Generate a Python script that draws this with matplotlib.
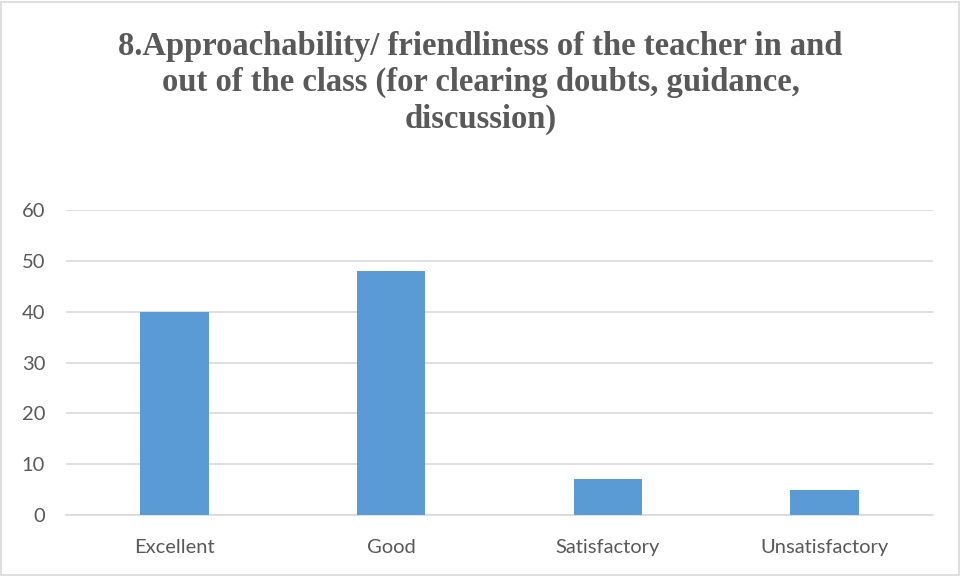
import matplotlib
matplotlib.use("Agg")
from matplotlib import pyplot as plt

# data
categories = ["Excellent", "Good", "Satisfactory", "Unsatisfactory"]
counts = [40, 48, 7, 5]
yticks = [0, 10, 20, 30, 40, 50, 60]

title = ("8.Approachability/ friendliness of the teacher in and\n"
         "out of the class (for clearing doubts, guidance,\n"
         "discussion)")

text_grey = "#595959"
bar_blue = "#5B9BD5"
grid_grey = "#D9D9D9"

fig = plt.figure(figsize=(9.61, 5.76), dpi=100)
ax = fig.add_axes([0.0687, 0.106, 0.902, 0.529])

x = list(range(len(categories)))
ax.bar(x, counts, width=0.315, color=bar_blue, zorder=3)

ax.set_xlim(-0.5, len(categories) - 0.5)
ax.set_ylim(0, 60)
ax.set_yticks(yticks)
ax.set_xticks(x)
ax.set_xticklabels(categories)
ax.yaxis.grid(True, color=grid_grey, linewidth=1.2, zorder=0)

for side in ["top", "right", "left"]:
    ax.spines[side].set_visible(False)
ax.spines["bottom"].set_color(grid_grey)
ax.spines["bottom"].set_linewidth(1.2)

ax.tick_params(axis="both", length=0, colors=text_grey, labelsize=14.5)
ax.tick_params(axis="y", pad=15)
ax.tick_params(axis="x", pad=17)
for lbl in ax.get_xticklabels() + ax.get_yticklabels():
    lbl.set_family("Lato")

fig.text(0.5, 0.947, title, ha="center", va="top", fontsize=23.5,
         fontweight="bold", family="Liberation Serif", color=text_grey,
         linespacing=1.22)

# thin frame round the whole chart
frame = plt.Rectangle((0.001, 0.002), 0.997, 0.995, transform=fig.transFigure,
                      fill=False, edgecolor=grid_grey, linewidth=1.2)
fig.patches.append(frame)

fig.savefig("out.png", dpi=100)
